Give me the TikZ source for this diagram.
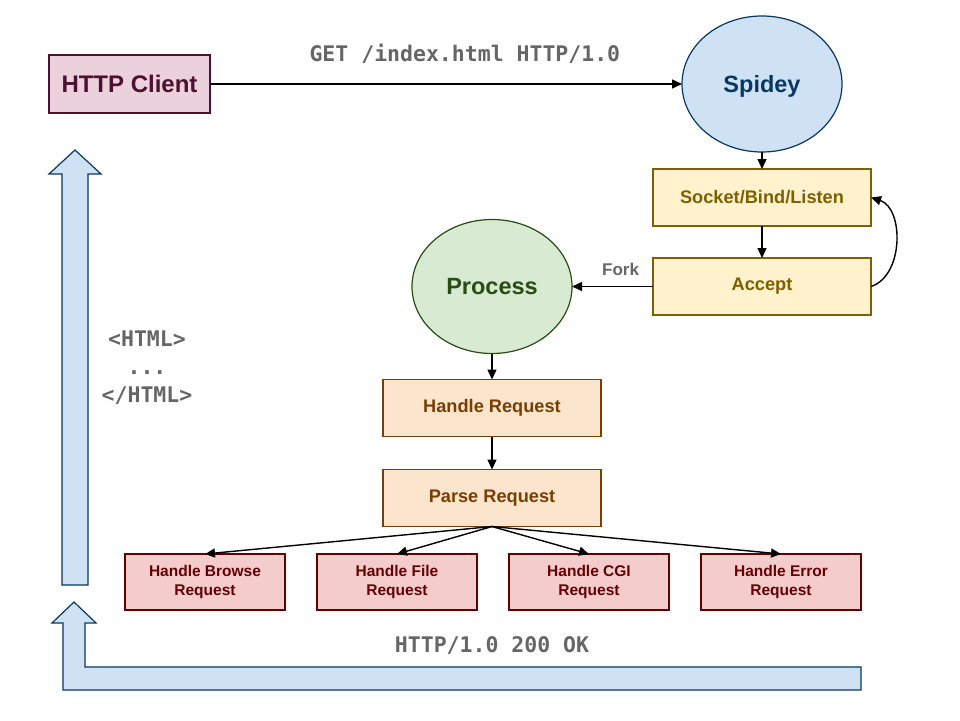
\documentclass[tikz,border=0pt]{standalone}
\usepackage{fontspec}
\setmainfont{Liberation Sans}
\setmonofont{DejaVu Sans Mono}
\usepackage{tikz}
\usetikzlibrary{shapes.geometric, arrows.meta, positioning}
\definecolor{clientFill}{HTML}{EAD1DC}
\definecolor{clientLine}{HTML}{4C1130}
\definecolor{serverFill}{HTML}{CFE2F3}
\definecolor{serverLine}{HTML}{073763}
\definecolor{loopFill}{HTML}{FFF2CC}
\definecolor{loopLine}{HTML}{7F6000}
\definecolor{procFill}{HTML}{D9EAD3}
\definecolor{procLine}{HTML}{274E13}
\definecolor{reqFill}{HTML}{FCE5CD}
\definecolor{reqLine}{HTML}{783F04}
\definecolor{handlerFill}{HTML}{F4CCCC}
\definecolor{handlerLine}{HTML}{660000}
\definecolor{msgGray}{HTML}{666666}

\begin{document}
\begin{tikzpicture}[
    x=1pt, y=-1pt,
    box/.style 2 args={
        rectangle,
        draw=#2,
        fill=#1,
        text=#2,
        line width=1.2pt,
        outer sep=0pt,
        minimum width=218pt,
        minimum height=57pt,
        font=\fontsize{18.2}{21}\selectfont\bfseries
    },
    blob/.style 2 args={
        ellipse,
        draw=#2,
        fill=#1,
        text=#2,
        line width=1.2pt,
        outer sep=0pt,
        minimum width=160pt,
        minimum height=136pt,
        inner sep=0pt,
        font=\fontsize{23.5}{27}\selectfont\bfseries
    },
    handler/.style={
        box={handlerFill}{handlerLine},
        minimum width=160pt,
        minimum height=56pt,
        align=center,
        font=\fontsize{15.5}{19}\selectfont\bfseries
    },
    flow/.style={-{Triangle[length=10pt,width=9pt]}, line width=1.4pt},
    msg/.style={text=msgGray, font=\fontsize{21.5}{28}\selectfont\ttfamily\bfseries},
    bigarrow/.style={draw=serverLine, fill=serverFill, line width=1.2pt, line join=miter}
]
    \useasboundingbox (0,0) rectangle (960,720);

    % Client and server
    \node[box={clientFill}{clientLine}, minimum width=161pt, minimum height=58pt,
          font=\fontsize{24}{28}\selectfont\bfseries] (client) at (129.5,84) {HTTP Client};
    \node[blob={serverFill}{serverLine}, text depth=0pt] (spidey) at (762,84) {Spidey};

    % Server loop
    \node[box={loopFill}{loopLine}, below=17pt of spidey] (socket) {Socket/Bind/Listen};
    \node[box={loopFill}{loopLine}, below=32pt of socket] (accept) {Accept};

    % Child process
    \node[blob={procFill}{procLine}, minimum height=134pt, left=81pt of accept] (process) {Process};
    \node[box={reqFill}{reqLine}, below=26pt of process] (handle) {Handle Request};
    \node[box={reqFill}{reqLine}, below=33pt of handle] (parse) {Parse Request};

    % Handlers
    \node[handler] (browse) at (205,582) {Handle Browse\\Request};
    \node[handler, right=32pt of browse] (file) {Handle File\\Request};
    \node[handler, right=32pt of file] (cgi) {Handle CGI\\Request};
    \node[handler, right=32pt of cgi] (error) {Handle Error\\Request};

    % Messages
    \node[msg, align=center] (html) at (147,368) {<HTML>\\...\\</HTML>};
    \node[msg] (reply) at (492,646) {HTTP/1.0 200 OK};

    % Connections
    \draw[flow] (client) -- node[msg, above=16pt, pos=0.54] (request) {GET /index.html HTTP/1.0} (spidey);
    \draw[flow] (spidey) -- (socket);
    \draw[flow] (socket) -- (accept);
    \draw[flow] (accept.east) to[bend right=72] (socket.east);
    \draw[flow] (accept) -- node[above=7pt, pos=0.4, text=msgGray,
          font=\fontsize{17}{20}\selectfont\bfseries] (fork) {Fork} (process);
    \draw[flow] (process) -- (handle);
    \draw[flow] (handle) -- (parse);
    \foreach \handler in {browse, file, cgi, error} {
        \draw[flow] (parse.south) -- (\handler.north);
    }

    % Response arrows
    \draw[bigarrow] (62,585) -- (62,174) -- (49,174) -- (75,150) -- (101,174)
        -- (88,174) -- (88,585) -- cycle;
    \draw[bigarrow] (861,667) -- (85,667) -- (85,623) -- (96,623) -- (74,602)
        -- (52,623) -- (63,623) -- (63,690) -- (861,690) -- cycle;

\end{tikzpicture}
\end{document}
